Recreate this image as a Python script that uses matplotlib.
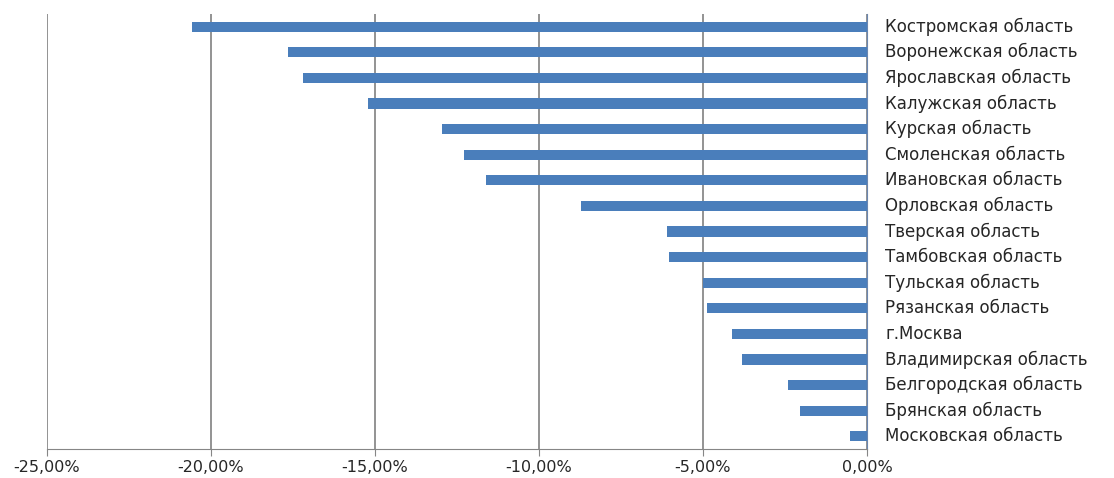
import matplotlib
matplotlib.use("Agg")
from matplotlib import pyplot as plt
from matplotlib.ticker import FuncFormatter
import numpy as np

regions = [
    "Костромская область", "Воронежская область", "Ярославская область",
    "Калужская область", "Курская область", "Смоленская область",
    "Ивановская область", "Орловская область", "Тверская область",
    "Тамбовская область", "Тульская область", "Рязанская область",
    "г.Москва", "Владимирская область", "Белгородская область",
    "Брянская область", "Московская область",
]
# change, %
values = [-20.58, -17.65, -17.2, -15.2, -12.97, -12.3, -11.63, -8.73,
          -6.1, -6.04, -5.0, -4.88, -4.12, -3.82, -2.41, -2.05, -0.52]
xticks = [-25, -20, -15, -10, -5, 0]

plt.rcParams['font.family'] = ['DejaVu Sans']

fig = plt.figure(figsize=(11.14, 4.78), dpi=100)
ax = fig.add_axes([47/1114, 29/478, 820/1114, 435/478])

y = np.arange(len(regions))
ax.barh(y, values, height=0.4, color="#4a7ebb", zorder=3)

ax.set_xlim(-25, 0)
ax.set_ylim(len(regions) - 0.5, -0.5)
ax.set_xticks(xticks)
ax.xaxis.set_major_formatter(FuncFormatter(lambda v, p: ("%.2f%%" % v).replace(".", ",")))
ax.tick_params(axis="x", direction="out", length=5, color="#868686",
               labelsize=11.5, labelcolor="#262626", pad=3)
ax.set_yticks([])
ax.grid(axis="x", color="#808080", linewidth=1.2, zorder=0)

for s in ["top", "left"]:
    ax.spines[s].set_visible(False)
ax.spines["bottom"].set_color("#868686")
ax.spines["right"].set_color("#6a86b0")

# labels right of the zero line
for i, name in enumerate(regions):
    ax.text(0.55, i, name, ha="left", va="center", fontsize=12, color="#262626",
            clip_on=False)

fig.savefig("out.png", dpi=100)
